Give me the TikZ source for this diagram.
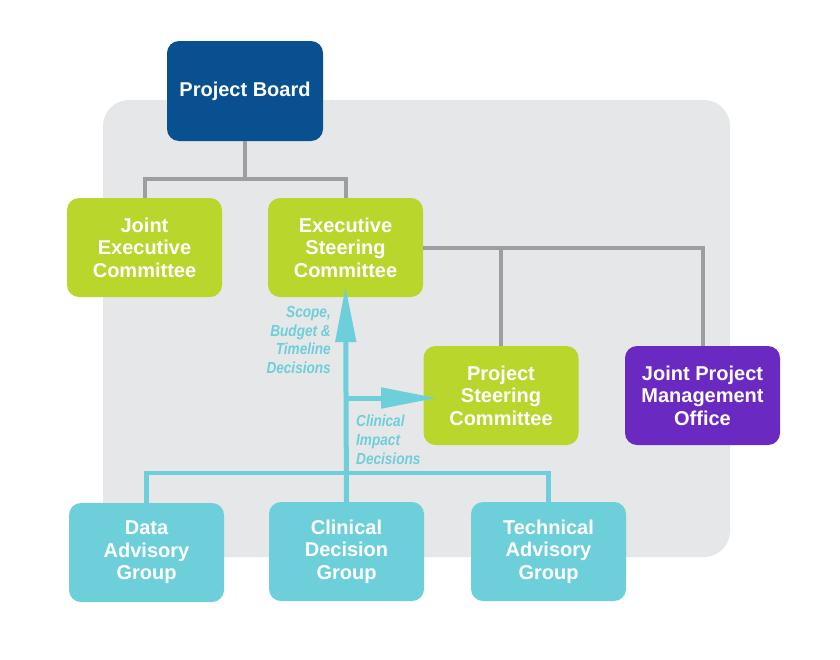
\documentclass[tikz,border=0pt]{standalone}
\usepackage{fontspec}
\setmainfont{Liberation Sans}
\newfontfamily\lblfont[FakeStretch=0.85]{Liberation Sans}
\usetikzlibrary{arrows.meta,calc}
\definecolor{pbblue}{HTML}{08508F}
\definecolor{lime}{HTML}{B8D62C}
\definecolor{violet}{HTML}{6A29C1}
\definecolor{aqua}{HTML}{6DCFDA}
\definecolor{panel}{HTML}{E6E7E8}
\definecolor{linegray}{HTML}{9D9EA2}
\begin{document}
\begin{tikzpicture}[x=1pt,y=-1pt,
  box/.style={rounded corners=12pt, minimum width=155pt, minimum height=99pt,
    align=center, text=white, font=\fontsize{20}{22.5}\selectfont\bfseries, inner sep=0pt},
  greyline/.style={draw=linegray, line width=4pt},
  aqualine/.style={draw=aqua, line width=4.5pt},
  aquaarrow/.style={draw=aqua, line width=5pt, -{Triangle[length=56pt,width=20pt]}},
  lbl/.style={text=aqua, font=\lblfont\fontsize{16}{18.7}\selectfont\bfseries\itshape, inner sep=0pt}
]
\useasboundingbox (0,0) rectangle (840,659);
\fill[white] (0,0) rectangle (840,659);
\fill[panel, rounded corners=26pt] (103,100) rectangle (730,557);

\node[box, fill=pbblue, minimum width=156pt, minimum height=100pt] (pb) at (245,91) {Project Board};
\node[box, fill=lime] (jec) at (144.5,247.5) {Joint\\Executive\\Committee};
\node[box, fill=lime] (esc) at (345.5,247.5) {Executive\\Steering\\Committee};
\node[box, fill=lime] (psc) at (501,395.5) {Project\\Steering\\Committee};
\node[box, fill=violet] (jpmo) at (702.5,395.5) {Joint Project\\Management\\Office};
\node[box, fill=aqua] (dag) at (146.5,552.5) {Data\\Advisory\\Group};
\node[box, fill=aqua] (cdg) at (346.5,551.5) {Clinical\\Decision\\Group};
\node[box, fill=aqua] (tag) at (548.5,551.5) {Technical\\Advisory\\Group};

% grey connectors
\coordinate (j1) at (245,179);
\draw[greyline] (pb.south) -- (j1);
\draw[greyline] (jec.north) |- (j1) -| (esc.north);
\draw[greyline] (esc.east) -| (jpmo.north);
\coordinate (j2) at (502,247.5);
\draw[greyline] (psc.north) -- (psc.north |- j2);

% aqua connectors
\coordinate (bus) at (346.5,473);
\draw[aqualine] (dag.north) |- (bus) -| (tag.north);
\draw[aqualine] (cdg.north) -- (bus);
\coordinate (tipesc) at ($(esc.south)+(0,-11)$);
\draw[aquaarrow] (cdg.north) -- (tipesc);
\coordinate (split) at (346.5,398);
\coordinate (tippsc) at (437,398);
\draw[aquaarrow] (split) -- (tippsc);

% labels
\node[lbl, align=right, anchor=north east] (l1) at (331,306) {Scope,\\Budget \&\\Timeline\\Decisions};
\node[lbl, align=left, anchor=north west] (l2) at (356,415) {Clinical\\Impact\\Decisions};
\end{tikzpicture}
\end{document}
